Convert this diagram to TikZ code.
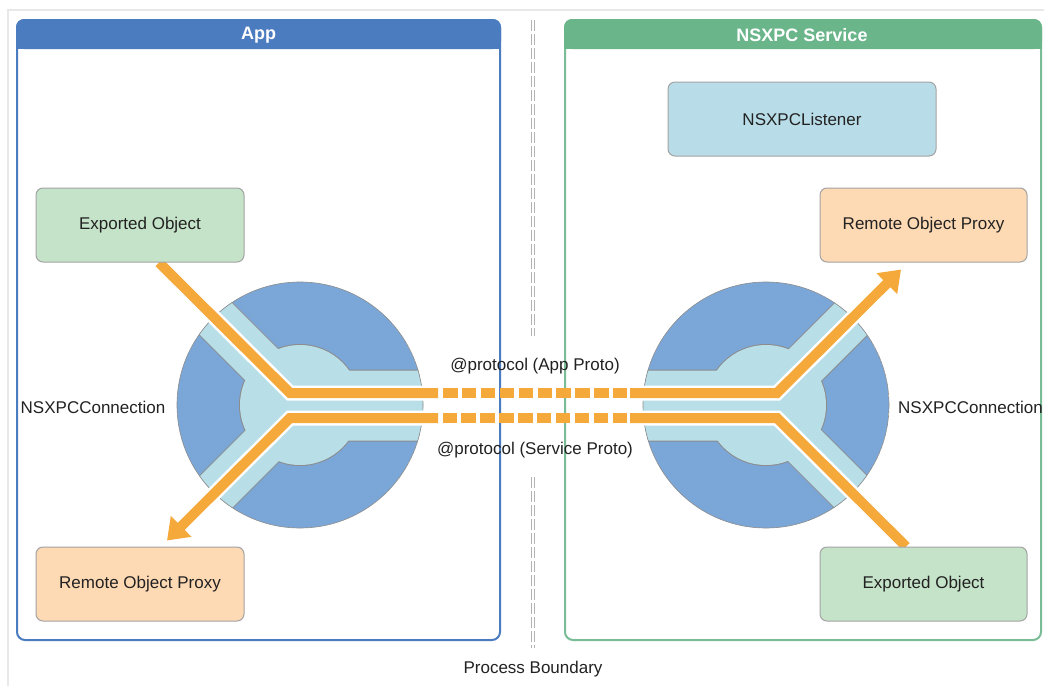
\documentclass[tikz,border=0pt]{standalone}
\usepackage{fontspec}
\setmainfont{Liberation Sans}
\usetikzlibrary{arrows.meta,calc}
\pgfdeclarelayer{background}
\pgfsetlayers{background,main}
\definecolor{appblue}{HTML}{4A7CBF}
\definecolor{svcgreen}{HTML}{6AB58A}
\definecolor{darkch}{HTML}{7BA7D8}
\definecolor{lightch}{HTML}{B8DEE8}
\definecolor{edgegray}{HTML}{8C8C8C}
\definecolor{flowc}{HTML}{F6A93B}
\definecolor{gfill}{HTML}{C5E3C8}
\definecolor{ofill}{HTML}{FDD9B4}
\definecolor{bfill}{HTML}{B9DDE8}
\definecolor{txt}{HTML}{222222}
\definecolor{framec}{HTML}{E8E8E8}
\tikzset{
  box/.style={draw=edgegray!80, line width=1pt, rounded corners=7pt, text=txt,
    font=\fontsize{17}{20}\selectfont, minimum height=74pt, inner sep=0pt},
  lbl/.style={text=txt, font=\fontsize{17}{20}\selectfont, inner sep=0pt},
  hdr/.style={text=white, font=\fontsize{18}{21}\selectfont\bfseries, inner sep=0pt},
  chan/.style={line width=45pt, draw=lightch, line join=miter},
  chanedge/.style={line width=47pt, draw=edgegray, line join=miter},
  flow/.style={line width=10pt, draw=flowc, line join=miter},
  flowhalo/.style={line width=15pt, draw=white, line join=miter},
  flowdash/.style={line width=10pt, draw=flowc, dash pattern=on 14.5pt off 4.4pt},
  tipc/.style={-{Triangle[length=20pt,width=28pt]}},
  bound/.style={line width=3.2pt, draw=gray!60, dash pattern=on 11pt off 3pt},
  boundin/.style={line width=1.4pt, draw=white, dash pattern=on 11pt off 3pt}
}
\begin{document}
\begin{tikzpicture}[x=1pt,y=-1pt]
\useasboundingbox (0,0) rectangle (1044,686);

% boxes (main layer, drawn over everything in background)
\node[box, fill=gfill, minimum width=208pt] (expL) at (140,225) {Exported Object};
\node[box, fill=ofill, minimum width=208pt] (remL) at (140,584) {Remote Object Proxy};
\node[box, fill=bfill, minimum width=268pt] (lis) at (802,119) {NSXPCListener};
\node[box, fill=ofill, minimum width=207pt] (remR) at (923.5,225) {Remote Object Proxy};
\node[box, fill=gfill, minimum width=207pt] (expR) at (923.5,584) {Exported Object};

\begin{pgfonlayer}{background}
\fill[white] (0,0) rectangle (1044,686);
% faint outer frame
\draw[framec, line width=1.5pt] (1044,10) -- (8,10) -- (8,686);

% containers
\draw[appblue, line width=2pt, rounded corners=8pt] (17,20) rectangle (500,640);
\fill[appblue, rounded corners=8pt] (16,19) -- (16,49) -- (501,49) -- (501,19) -- cycle;
\fill[appblue] (16,35) rectangle (501,49);

\draw[svcgreen!90!white, line width=2pt, rounded corners=8pt] (565,20) rectangle (1041,640);
\fill[svcgreen, rounded corners=8pt] (564,19) -- (564,49) -- (1042,49) -- (1042,19) -- cycle;
\fill[svcgreen] (564,35) rectangle (1042,49);

% process boundary
\coordinate (pb1) at (533,20);
\coordinate (pb2) at (533,336);
\coordinate (pb3) at (533,477);
\coordinate (pb4) at (533,648);
\draw[bound] (pb1) -- (pb2);
\draw[boundin] (pb1) -- (pb2);
\draw[bound] (pb3) -- (pb4);
\draw[boundin] (pb3) -- (pb4);

% connection circles
\coordinate (cL) at (300,405);
\coordinate (cR) at (766,405);
\begin{scope}
\clip (cL) circle (123);
\fill[darkch] (cL) circle (123);
\draw[chanedge] (150,253) -- (290,393) -- (450,393);
\draw[chanedge] (450,418) -- (290,418) -- (150,558);
\fill[edgegray] (cL) circle (61);
\draw[chan] (150,253) -- (290,393) -- (450,393);
\draw[chan] (450,418) -- (290,418) -- (150,558);
\fill[lightch] (cL) circle (60);
\end{scope}
\draw[edgegray, line width=0.6pt] (cL) circle (123);

\begin{scope}
\clip (cR) circle (123);
\fill[darkch] (cR) circle (123);
\draw[chanedge] (620,393) -- (777,393) -- (917,253);
\draw[chanedge] (620,418) -- (777,418) -- (917,558);
\fill[edgegray] (cR) circle (61);
\draw[chan] (620,393) -- (777,393) -- (917,253);
\draw[chan] (620,418) -- (777,418) -- (917,558);
\fill[lightch] (cR) circle (60);
\end{scope}
\draw[edgegray, line width=0.6pt] (cR) circle (123);

% flow coordinates
\coordinate (s1) at ($(expL.south)+(19,0)$);
\coordinate (a1) at (290,393);
\coordinate (a2) at (438,393);
\coordinate (a2d) at (443,393);
\coordinate (a3d) at (627,393);
\coordinate (a3) at (630,393);
\coordinate (a4) at (777,393);
\coordinate (t1) at ($(remR.south)+(-22.5,7)$);
\coordinate (h1) at ($(a4)!0.85!(t1)$);

\coordinate (s2) at ($(expR.north)+(-17.5,0)$);
\coordinate (b4) at (777,418);
\coordinate (b3) at (630,418);
\coordinate (b3d) at (627,418);
\coordinate (b2d) at (443,418);
\coordinate (b2) at (438,418);
\coordinate (b1) at (290,418);
\coordinate (t2) at ($(remL.north)+(27,-6)$);
\coordinate (h2) at ($(b1)!0.85!(t2)$);

% halos
\draw[flowhalo] (s1) -- (a1) -- (a2);
\draw[flowhalo] (a3) -- (a4) -- (h1);
\draw[flowhalo] (s2) -- (b4) -- (b3);
\draw[flowhalo] (b2) -- (b1) -- (h2);
% flows
\draw[flow] (s1) -- (a1) -- (a2);
\draw[flowdash] (a2d) -- (a3d);
\draw[flow, tipc] (a3) -- (a4) -- (t1);
\draw[flow] (s2) -- (b4) -- (b3);
\draw[flowdash] (b3d) -- (b2d);
\draw[flow, tipc] (b2) -- (b1) -- (t2);
\end{pgfonlayer}

% headers and labels
\node[hdr] (apphdr) at (258.5,35) {App};
\node[hdr] (svchdr) at (802,35) {NSXPC Service};
\node[lbl] (protoA) at (535,366) {@protocol (App Proto)};
\node[lbl] (protoS) at (535,450) {@protocol (Service Proto)};
\node[lbl] (connL) at (93,407) {NSXPCConnection};
\node[lbl, anchor=west] (connR) at (898,407) {NSXPCConnection};
\node[lbl] (pbl) at (533,669) {Process Boundary};
\end{tikzpicture}
\end{document}
